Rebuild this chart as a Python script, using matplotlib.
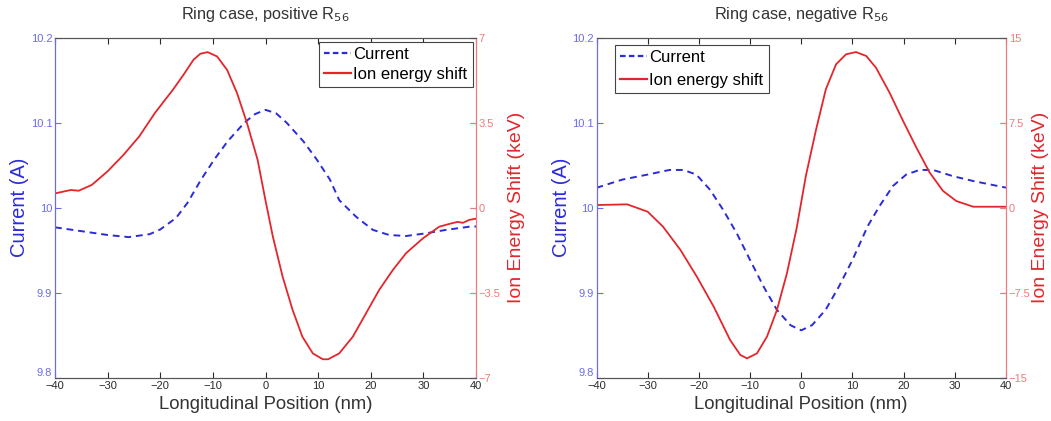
import matplotlib
matplotlib.use("Agg")
import matplotlib.pyplot as plt
from matplotlib.lines import Line2D

plt.rcParams['font.family'] = ['Liberation Sans', 'DejaVu Sans']

# ---- positive R56 ----
pos_cur_x = [-40, -35, -30, -26, -22, -20, -17, -14.8, -12.25, -9.7, -7.2, -4,
             -2, 0, 2, 4, 7.2, 9.7, 12.25, 14, 17.2, 20.4, 23.5, 26.7, 30.5,
             34.3, 38.7, 40]
pos_cur_y = [9.977, 9.9725, 9.968, 9.9655, 9.969, 9.9745, 9.988, 10.006,
             10.033, 10.057, 10.078, 10.100, 10.110, 10.115, 10.111, 10.100,
             10.078, 10.057, 10.033, 10.009, 9.9895, 9.974, 9.968, 9.9668,
             9.970, 9.974, 9.9777, 9.978]
pos_en_x = [-40, -37, -35.5, -33, -30, -27, -24, -21, -17.6, -15.6, -13.7,
            -12.4, -11, -9.2, -7.3, -5.4, -3.5, -1.5, 0, 1.4, 3.25, 5.15, 7, 9,
            10.9, 11.9, 14, 16.6, 19.1, 21.6, 24.2, 26.7, 29.9, 33, 35,
            36.5, 37.5, 38.7, 40]
pos_en_y = [0.59, 0.73, 0.70, 0.94, 1.50, 2.17, 2.93, 3.90, 4.85, 5.46, 6.08,
            6.33, 6.40, 6.22, 5.67, 4.71, 3.47, 1.97, 0.30, -1.19, -2.83, -4.20,
            -5.30, -5.99, -6.23, -6.23, -5.99, -5.30, -4.34, -3.38, -2.56,
            -1.87, -1.26, -0.78, -0.66, -0.58, -0.62, -0.50, -0.45]

# ---- negative R56 ----
neg_cur_x = [-40, -35, -30, -25.75, -23, -20.5, -17.8, -15.2, -12.6, -10,
             -7.35, -4.75, -2.1, 0, 2.1, 4.75, 7.35, 10, 13, 15.3, 17.9, 20.5,
             23.1, 25.75, 29.7, 33.6, 40]
neg_cur_y = [10.0234, 10.033, 10.039, 10.0444, 10.0444, 10.039, 10.021,
             9.997, 9.970, 9.9386, 9.9073, 9.880, 9.862, 9.856, 9.862, 9.880,
             9.9073, 9.9386, 9.9786, 10.002, 10.0255, 10.039, 10.0444,
             10.0444, 10.037, 10.0314, 10.0236]
neg_en_x = [-40, -34, -30, -27, -23.6, -20.4, -17.1, -13.9, -11.9, -10.6,
            -8.65, -6.7, -4.75, -2.8, -0.9, 0.9, 2.9, 4.8, 6.8, 8.75, 10.7,
            12.7, 14.6, 17.25, 19.9, 22.5, 25.1, 27.7, 30.3, 33.6, 36.9, 40]
neg_en_y = [0.24, 0.30, -0.35, -1.67, -3.72, -6.07, -8.72, -11.65, -12.97,
            -13.27, -12.83, -11.36, -9.01, -5.78, -1.80, 2.80, 6.90, 10.43,
            12.64, 13.52, 13.72, 13.37, 12.34, 10.14, 7.64, 5.29, 3.09, 1.48,
            0.59, 0.09, 0.09, 0.09]

titles = ['Ring case, positive R$_{56}$', 'Ring case, negative R$_{56}$']
x_ticks = [-40, -30, -20, -10, 0, 10, 20, 30, 40]
cur_ticks = [9.8, 9.9, 10.0, 10.1, 10.2]
cur_labels = ['9.8', '9.9', '10', '10.1', '10.2']
pos_en_ticks = [-7, -3.5, 0, 3.5, 7]
pos_en_labels = ['-7', '-3.5', '0', '3.5', '7']
neg_en_ticks = [-15, -7.5, 0, 7.5, 15]
neg_en_labels = ['-15', '-7.5', '0', '7.5', '15']
legend_labels = ['Current', 'Ion energy shift']

BLUE = '#2b2bd9'
RED = '#e3262b'
BLUE_AX = '#6a6af0'
RED_AX = '#f07a7a'
GRAY = '#555555'
TEXT = '#2a2a2a'

W, H = 1051, 421
fig = plt.figure(figsize=(W / 100, H / 100), dpi=100)
fig.patch.set_facecolor('white')


def px_box(x0, x1, y0, y1):
    return (x0 / W, 1 - y1 / H, (x1 - x0) / W, (y1 - y0) / H)


boxes = [px_box(55, 476, 37.5, 378), px_box(596.5, 1006, 37.5, 378)]
panels = [
    (pos_cur_x, pos_cur_y, pos_en_x, pos_en_y, pos_en_ticks, pos_en_labels,
     'upper right', (0.9917, 0.9868), 0.3, 5),
    (neg_cur_x, neg_cur_y, neg_en_x, neg_en_y, neg_en_ticks, neg_en_labels,
     'upper left', (0.0457, 0.9794), 0.5, 1),
]

for box, title, (cx, cy, ex, ey, eticks, elabels, loc, anchor, lspace, rpad) in zip(
        boxes, titles, panels):
    ax = fig.add_axes(box)
    ax2 = ax.twinx()
    ax.plot(cx, cy, color=BLUE, lw=1.4, ls=(0, (3.5, 2.5)))
    ax2.plot(ex, ey, color=RED, lw=1.3)

    ax.set_xlim(-40, 40)
    ax.set_ylim(9.8, 10.2)
    ax2.set_ylim(eticks[0], eticks[-1])

    ax.set_xticks(x_ticks)
    ax.set_xticklabels([str(t).replace('-', '\u2212') for t in x_ticks])
    ax.set_yticks(cur_ticks)
    ax.set_yticklabels(cur_labels)
    ax2.set_yticks(eticks)
    ax2.set_yticklabels([l.replace('-', '\u2212') for l in elabels])

    ax.tick_params(axis='x', direction='in', length=4, labelsize=8,
                   colors=TEXT, top=True, pad=2)
    ax.tick_params(axis='y', direction='in', length=4, labelsize=8,
                   colors=BLUE_AX, pad=2, right=True, labelright=False)
    ax2.tick_params(axis='y', direction='in', length=4, labelsize=8,
                    colors=RED_AX, pad=2)
    # lowest current label sits just above the corner x label
    ax.get_yticklabels()[0].set_verticalalignment('bottom')

    for a in (ax, ax2):
        a.spines['top'].set_color(GRAY)
        a.spines['bottom'].set_color(GRAY)
        a.spines['left'].set_color(BLUE_AX)
        a.spines['right'].set_color(RED_AX)
        for s in a.spines.values():
            s.set_linewidth(0.8)

    ax.set_title(title, fontsize=11.7, color='#333333', pad=13)
    ax.set_xlabel('Longitudinal Position (nm)', fontsize=13.3, color='#333333',
                  labelpad=4)
    ax.set_ylabel('Current (A)', fontsize=14.5, color=BLUE, labelpad=1)
    ax2.set_ylabel('Ion Energy Shift (keV)', fontsize=14, color=RED, labelpad=rpad)

    handles = [Line2D([], [], color=BLUE, lw=1.6, ls=(0, (2.5, 1.5))),
               Line2D([], [], color=RED, lw=1.6)]
    leg = ax2.legend(handles, legend_labels, loc=loc, bbox_to_anchor=anchor,
                     fontsize=12, fancybox=False, framealpha=1,
                     edgecolor='#444444', handlelength=1.6, handletextpad=0.15,
                     borderpad=0.3, labelspacing=lspace, borderaxespad=0)
    leg.get_frame().set_linewidth(0.8)

fig.savefig('out.png', dpi=100, facecolor='white')
